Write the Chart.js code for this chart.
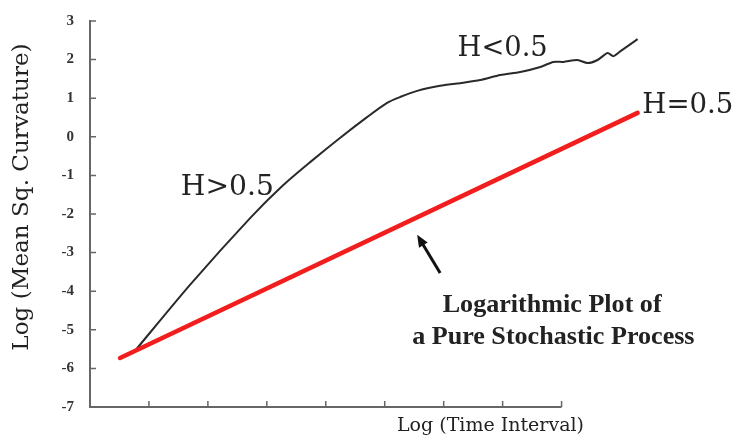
<!DOCTYPE html>
<html lang="en">
  <head>
    <meta charset="UTF-8" />
    <title>Log Mean Sq. Curvature vs Log Time Interval</title>
    <script src="https://cdn.jsdelivr.net/npm/chart.js"></script>
    <style>
      body {
        margin: 0;
        background: #fff;
      }
      #wrap {
        width: 738px;
        height: 439px;
      }
    </style>
  </head>
  <body>
    <div id="wrap">
      <canvas id="curveChart" width="738" height="439"></canvas>
    </div>

    <script>
      // black curve: measured process
      const curveX = [0.76, 1.7, 2.72, 3.28, 3.74, 4.24, 4.7, 5.04, 5.26, 5.55, 5.94, 6.28, 6.62, 6.96, 7.3, 7.64, 7.86, 8.03, 8.27, 8.44, 8.61, 8.78, 8.88, 9.0, 9.17, 9.29];
      const curveY = [-5.55, -3.83, -2.1, -1.25, -0.65, -0.03, 0.51, 0.88, 1.03, 1.19, 1.32, 1.39, 1.47, 1.6, 1.68, 1.81, 1.94, 1.94, 1.99, 1.91, 1.99, 2.17, 2.09, 2.22, 2.4, 2.53];

      // red line: pure stochastic process (H = 0.5)
      const refX = [0.51, 9.29];
      const refY = [-5.73, 0.62];

      const yTicks = [3, 2, 1, 0, -1, -2, -3, -4, -5, -6, -7];
      const xTicks = [1, 2, 3, 4, 5, 6, 7, 8];
      const xAxisEnd = 8;

      const yTitle = "Log (Mean Sq. Curvature)";
      const xTitle = "Log (Time Interval)";

      const serif = '"Liberation Serif", serif';
      const wide = '"DejaVu Serif", serif';

      // text notes, in data units; w = width the text should take, in px
      const notes = [
        { text: "H>0.5", x: 2.33, y: -1.33, align: "center", w: 93, font: wide, bold: false },
        { text: "H<0.5", x: 7.0, y: 2.27, align: "center", w: 90, font: wide, bold: false },
        { text: "H=0.5", x: 9.37, y: 0.8, align: "left", w: 91, font: wide, bold: false },
        { text: "Logarithmic Plot of", x: 7.84, y: -4.36, align: "center", w: 219, font: serif, bold: true },
        { text: "a Pure Stochastic Process", x: 7.86, y: -5.19, align: "center", w: 283, font: serif, bold: true },
        { text: xTitle, x: 8.38, y: -7.49, align: "right", w: 187, font: wide, bold: false },
      ];
      const arrowFrom = [5.94, -3.53];
      const arrowTo = [5.55, -2.54];

      function fitFont(ctx, text, family, bold, width) {
        const pre = bold ? "bold " : "";
        ctx.font = pre + "20px " + family;
        const size = (20 * width) / ctx.measureText(text).width;
        ctx.font = pre + size.toFixed(1) + "px " + family;
      }

      const decor = {
        id: "decor",
        afterDatasetsDraw(chart) {
          const { ctx, scales } = chart;
          const xs = scales.x, ys = scales.y;
          const x0 = xs.getPixelForValue(0);
          const yb = ys.getPixelForValue(-7);
          ctx.save();
          // axis lines
          ctx.strokeStyle = "#666";
          ctx.lineWidth = 2;
          ctx.beginPath();
          ctx.moveTo(x0, ys.getPixelForValue(3) - 1);
          ctx.lineTo(x0, yb);
          ctx.lineTo(xs.getPixelForValue(xAxisEnd), yb);
          ctx.stroke();
          // inward tick marks
          ctx.lineWidth = 1.5;
          ctx.beginPath();
          yTicks.forEach((v) => {
            const p = ys.getPixelForValue(v);
            ctx.moveTo(x0, p);
            ctx.lineTo(x0 + 6, p);
          });
          xTicks.forEach((v) => {
            const p = xs.getPixelForValue(v);
            ctx.moveTo(p, yb);
            ctx.lineTo(p, yb - 6);
          });
          ctx.stroke();

          // notes
          ctx.fillStyle = "#222";
          ctx.textBaseline = "middle";
          notes.forEach((n) => {
            fitFont(ctx, n.text, n.font, n.bold, n.w);
            ctx.textAlign = n.align;
            ctx.fillText(n.text, xs.getPixelForValue(n.x), ys.getPixelForValue(n.y));
          });

          // y title
          ctx.save();
          ctx.translate(xs.getPixelForValue(-1.15), ys.getPixelForValue(-1.56));
          ctx.rotate(-Math.PI / 2);
          ctx.textAlign = "center";
          fitFont(ctx, yTitle, wide, false, 307);
          ctx.fillText(yTitle, 0, 0);
          ctx.restore();

          // arrow
          const ax = xs.getPixelForValue(arrowFrom[0]);
          const ay = ys.getPixelForValue(arrowFrom[1]);
          const bx = xs.getPixelForValue(arrowTo[0]);
          const by = ys.getPixelForValue(arrowTo[1]);
          const ang = Math.atan2(by - ay, bx - ax);
          ctx.strokeStyle = "#111";
          ctx.fillStyle = "#111";
          ctx.lineWidth = 3;
          ctx.beginPath();
          ctx.moveTo(ax, ay);
          ctx.lineTo(bx - 6 * Math.cos(ang), by - 6 * Math.sin(ang));
          ctx.stroke();
          ctx.beginPath();
          ctx.moveTo(bx, by);
          ctx.lineTo(bx - 13 * Math.cos(ang - 0.4), by - 13 * Math.sin(ang - 0.4));
          ctx.lineTo(bx - 13 * Math.cos(ang + 0.4), by - 13 * Math.sin(ang + 0.4));
          ctx.closePath();
          ctx.fill();
          ctx.restore();
        },
      };

      new Chart(document.getElementById("curveChart"), {
        type: "scatter",
        data: {
          datasets: [
            {
              label: "H=0.5",
              data: refX.map((x, i) => ({ x, y: refY[i] })),
              showLine: true,
              borderColor: "#f21d1d",
              borderWidth: 4.5,
              borderCapStyle: "round",
              pointRadius: 0,
            },
            {
              label: "measured",
              data: curveX.map((x, i) => ({ x, y: curveY[i] })),
              showLine: true,
              borderColor: "#2a2a2a",
              borderWidth: 2,
              tension: 0.25,
              pointRadius: 0,
            },
          ],
        },
        options: {
          responsive: false,
          animation: false,
          layout: { padding: { top: 21, right: 88, bottom: 32, left: 0 } },
          plugins: {
            legend: { display: false },
            tooltip: { enabled: false },
          },
          scales: {
            x: {
              type: "linear",
              min: 0,
              max: 9.5,
              display: false,
            },
            y: {
              min: -7,
              max: 3,
              afterFit: (s) => { s.width = 90; },
              afterBuildTicks: (s) => { s.ticks = yTicks.map((v) => ({ value: v })); },
              grid: { display: false },
              border: { display: false },
              ticks: {
                padding: 8,
                color: "#333",
                font: { family: serif, size: 15, weight: "bold" },
              },
            },
          },
        },
        plugins: [decor],
      });
    </script>
  </body>
</html>
